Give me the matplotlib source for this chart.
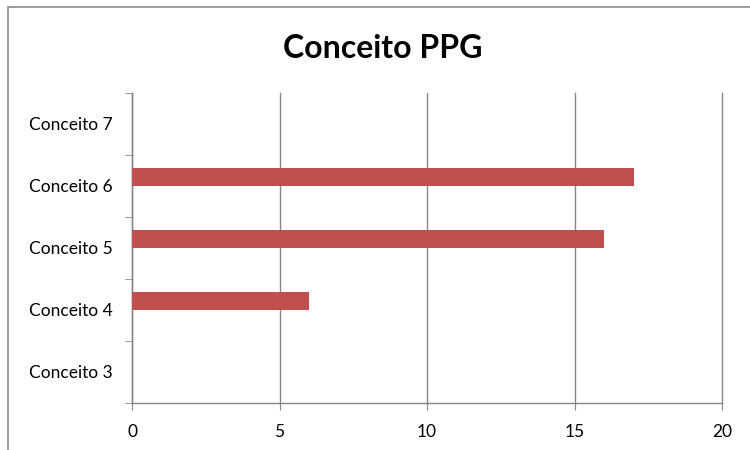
import matplotlib.pyplot as plt
from matplotlib.patches import Rectangle
import numpy as np

categories = ["Conceito 3", "Conceito 4", "Conceito 5", "Conceito 6", "Conceito 7"]
values = [0, 6, 16, 17, 0]
x_ticks = [0, 5, 10, 15, 20]

plt.rcParams['font.family'] = ['Lato', 'DejaVu Sans']

fig = plt.figure(figsize=(7.5, 4.5), dpi=100)
ax = fig.add_axes([132 / 750, 47 / 450, 590 / 750, 310 / 450])

# chart border like the Excel frame
fig.patches.append(Rectangle((8 / 750, -0.1), 1.2, (450 - 7) / 450 + 0.1,
                             transform=fig.transFigure, fill=False,
                             edgecolor="#8c8c8c", linewidth=1.2))

pos = np.arange(len(categories))
ax.barh(pos + 0.145, values, height=0.3, color="#C0504D", zorder=3)

ax.set_xlim(0, 20)
ax.set_ylim(-0.5, len(categories) - 0.5)
ax.set_xticks(x_ticks)
ax.set_xticklabels([str(v) for v in x_ticks], fontsize=12.5)
ax.set_yticks(pos)
ax.set_yticklabels(categories, fontsize=12.5)
ax.set_yticks(np.arange(-0.5, len(categories), 1), minor=True)
ax.tick_params(axis='y', which='major', length=0, pad=14)
ax.tick_params(axis='y', which='minor', length=5, color="#868686", direction='out')
ax.tick_params(axis='x', length=5, color="#868686", pad=10)

ax.grid(True, axis='x', color="#868686", linewidth=1, zorder=0)
for gl in ax.get_xgridlines():
    gl.set_clip_on(False)
for side in ['top', 'right']:
    ax.spines[side].set_visible(False)
for side in ['left', 'bottom']:
    ax.spines[side].set_color("#868686")
    ax.spines[side].set_linewidth(1)

fig.text(0.51, 1 - 48 / 450, "Conceito PPG", ha='center', va='center',
         fontsize=23, fontweight='bold')

fig.savefig("out.png", dpi=100)
